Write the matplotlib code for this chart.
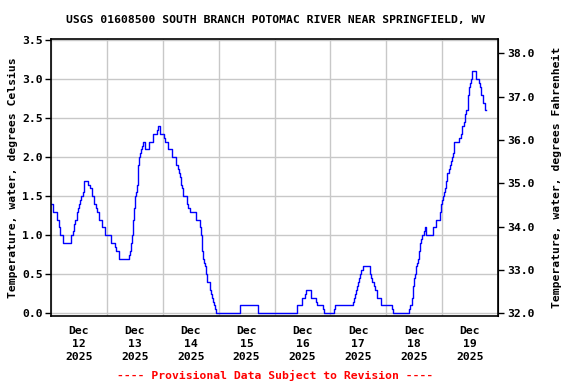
import numpy as np
import pandas as pd
import matplotlib
matplotlib.use("Agg")
import matplotlib.pyplot as plt
import matplotlib.dates as mdates


# =========================
# DATA
# =========================
TITLE = "USGS 01608500 SOUTH BRANCH POTOMAC RIVER NEAR SPRINGFIELD, WV"
FOOTER = "---- Provisional Data Subject to Revision ----"
START = "2025-12-12 00:00"
END = "2025-12-20 00:00"

# hours since Dec 12 00:00 where the value changes (step plot)
HOURS = [
    0.0, 0.7, 2.4, 3.4, 4.0, 5.3, 8.4, 9.3, 9.9, 10.3, 11.0, 11.7, 12.1, 12.6,
    13.1, 13.7, 14.0, 14.3, 16.1, 16.6, 17.7, 18.6, 19.3, 19.7, 20.6, 22.0,
    23.3, 25.9, 27.6, 28.0, 29.3, 33.3, 33.9, 34.3, 34.7, 35.1, 35.3, 35.6,
    36.0, 36.4, 36.9, 37.3, 37.7, 38.1, 38.6, 39.0, 39.6, 40.4, 42.0, 43.9,
    45.6, 46.0, 46.7, 47.0, 48.6, 49.0, 50.3, 52.0, 53.7, 54.7, 55.1, 55.6,
    56.0, 56.4, 56.7, 58.4, 59.0, 59.6, 62.1, 63.9, 64.3, 64.9, 65.4, 65.9,
    66.3, 66.7, 67.1, 68.1, 68.6, 69.0, 69.4, 69.9, 70.4, 71.0, 81.3, 88.9,
    105.6, 107.7, 109.0, 109.4, 111.6, 113.7, 114.1, 116.7, 117.1, 121.4,
    121.9, 129.6, 130.0, 130.7, 131.1, 131.6, 132.0, 132.4, 132.9, 133.3,
    133.9, 136.9, 137.3, 137.7, 138.6, 139.0, 139.9, 141.6, 146.3, 146.7,
    153.6, 154.0, 154.9, 155.4, 155.9, 156.3, 156.7, 157.1, 157.6, 158.0,
    158.4, 158.9, 159.3, 160.1, 160.6, 161.0, 164.1, 165.4, 166.9, 167.4,
    167.9, 168.3, 168.7, 169.1, 169.6, 170.1, 170.9, 171.3, 171.7, 172.1,
    172.6, 173.3, 175.3, 175.9, 176.7, 177.6, 178.0, 178.4, 178.9, 179.3,
    179.7, 180.1, 180.6, 181.0, 182.7, 184.0, 184.4, 184.9, 185.7, 186.6,
    186.8,
]

TEMP_C = [
    1.4, 1.3, 1.2, 1.1, 1.0, 0.9, 1.0, 1.05, 1.15, 1.2, 1.3, 1.35, 1.4, 1.45,
    1.5, 1.55, 1.6, 1.7, 1.65, 1.6, 1.5, 1.4, 1.35, 1.3, 1.2, 1.1,
    1.0, 0.9, 0.85, 0.8, 0.7, 0.75, 0.8, 0.9, 1.0, 1.05, 1.2, 1.35,
    1.5, 1.55, 1.65, 1.9, 2.0, 2.05, 2.1, 2.15, 2.2, 2.1, 2.2, 2.3,
    2.35, 2.4, 2.35, 2.3, 2.25, 2.2, 2.1, 2.0, 1.9, 1.85, 1.8, 1.75,
    1.65, 1.6, 1.5, 1.4, 1.35, 1.3, 1.2, 1.1, 1.0, 0.8, 0.7, 0.65,
    0.6, 0.5, 0.4, 0.3, 0.25, 0.2, 0.15, 0.1, 0.05, 0.0, 0.1, 0.0,
    0.1, 0.2, 0.25, 0.3, 0.2, 0.15, 0.1, 0.05, 0.0, 0.05,
    0.1, 0.15, 0.2, 0.25, 0.3, 0.35, 0.4, 0.45, 0.5, 0.55,
    0.6, 0.5, 0.45, 0.4, 0.35, 0.3, 0.2, 0.1, 0.05, 0.0,
    0.05, 0.1, 0.2, 0.35, 0.45, 0.5, 0.6, 0.65, 0.7, 0.8,
    0.9, 0.95, 1.0, 1.05, 1.1, 1.0, 1.1, 1.2, 1.3, 1.4,
    1.45, 1.5, 1.55, 1.6, 1.7, 1.8, 1.85, 1.9, 1.95, 2.0,
    2.05, 2.2, 2.25, 2.3, 2.4, 2.45, 2.55, 2.6, 2.7, 2.8,
    2.9, 2.95, 3.0, 3.1, 3.0, 2.95, 2.9, 2.8, 2.7, 2.6,
    2.6,
]

LEFT_TICKS = [0.0, 0.5, 1.0, 1.5, 2.0, 2.5, 3.0, 3.5]
RIGHT_TICKS = [32, 33, 34, 35, 36, 37, 38]
DAY_LABELS = ["Dec\n12\n2025", "Dec\n13\n2025", "Dec\n14\n2025", "Dec\n15\n2025",
              "Dec\n16\n2025", "Dec\n17\n2025", "Dec\n18\n2025", "Dec\n19\n2025"]

FONT = "DejaVu Sans Mono"
FS = 8.2


# =========================
# PLOT
# =========================
times = pd.Timestamp(START) + pd.to_timedelta(HOURS, unit="h")

fig = plt.figure(figsize=(5.76, 3.84), dpi=100)
ax = fig.add_axes([51 / 576, 68 / 384, 447 / 576, 277 / 384])

ax.plot(times, TEMP_C, drawstyle="steps-post", color="#0000ff", lw=1.0)

ax.set_xlim(pd.Timestamp(START), pd.Timestamp(END))
ax.set_ylim(-0.035, 3.515)

# midnight gridlines, labels at noon
days = pd.date_range(START, END, freq="D")
ax.set_xticks(days)
ax.set_xticklabels([])
ax.tick_params(axis="x", which="major", length=0)
noons = days[:-1] + pd.Timedelta(hours=12)
ax.set_xticks(noons, minor=True)
ax.set_xticklabels(DAY_LABELS, minor=True, fontfamily=FONT,
                   fontweight="bold", fontsize=FS, linespacing=1.4)
ax.tick_params(axis="x", which="minor", length=0, pad=7)

ax.set_yticks(LEFT_TICKS)
ax.set_yticklabels([f"{v:.1f}" for v in LEFT_TICKS], fontfamily=FONT,
                   fontweight="bold", fontsize=FS)
ax.tick_params(axis="y", length=4, width=1, pad=2)

ax.grid(True, which="major", color="#c8c8c8", lw=1.0)
ax.set_axisbelow(True)
for sp in ax.spines.values():
    sp.set_linewidth(1.2)

ax.set_ylabel("Temperature, water, degrees Celsius", fontfamily=FONT,
              fontweight="bold", fontsize=FS, labelpad=3)

sec = ax.secondary_yaxis("right", functions=(lambda c: c * 9 / 5 + 32,
                                             lambda f: (f - 32) * 5 / 9))
sec.set_yticks(RIGHT_TICKS)
sec.set_yticklabels([f"{v:.1f}" for v in RIGHT_TICKS], fontfamily=FONT,
                    fontweight="bold", fontsize=FS)
sec.tick_params(length=4, width=1, pad=3)
sec.set_ylabel("Temperature, water, degrees Fahrenheit", fontfamily=FONT,
               fontweight="bold", fontsize=FS, labelpad=12)

fig.text(276 / 576, 1 - 20 / 384, TITLE, ha="center", va="center",
         fontfamily=FONT, fontweight="bold", fontsize=FS)
fig.text(275 / 576, 1 - 375 / 384, FOOTER, ha="center", va="center",
         fontfamily=FONT, fontweight="bold", fontsize=FS, color="#ff0000")

fig.savefig("out.png", dpi=100)
